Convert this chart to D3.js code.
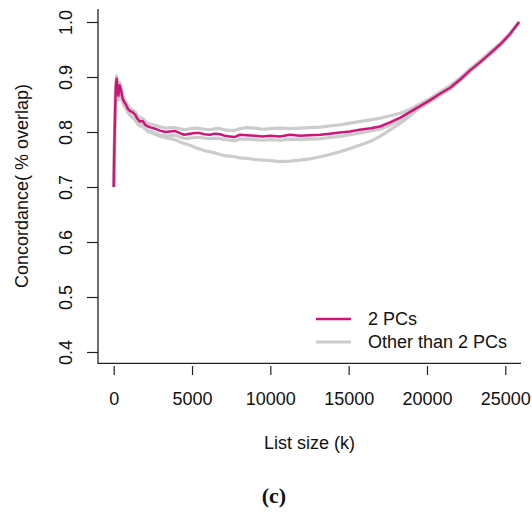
<!DOCTYPE html>
<html>
<head>
<meta charset="utf-8">
<script src="https://cdn.jsdelivr.net/npm/d3@7"></script>
<style>
    body { margin: 0; background: #fff; }
    svg { display: block; font-family: "Liberation Sans", Arial, sans-serif; }
</style>
</head>
<body>
<div id="chart"></div>
<script>
// list size grid (k)
const listSize = [0, 60, 130, 190, 250, 300, 380, 470, 560, 660, 780, 910, 1050, 1200, 1360, 1520,
    1680, 1850, 2020, 2190, 2400, 2640, 2900, 3280, 3600, 3900, 4230, 4500, 4870, 5200, 5500, 5800,
    6150, 6450, 6800, 7100, 7400, 7750, 8050, 8500, 9000, 9500, 10000, 10600, 11250, 11900, 12500,
    13200, 13800, 14450, 15100, 15700, 16400, 17000, 17600, 18300, 18900, 19500, 20200, 20800,
    21500, 22100, 22750, 23400, 24000, 24700, 25300, 25880];

const pcs2 = [.700, .800, .880, .897, .878, .866, .885, .876, .862, .855, .850, .842, .838, .836, .832, .824,
    .819, .820, .813, .810, .808, .806, .803, .800, .801, .802, .798, .795, .797, .798, .798, .796,
    .795, .797, .796, .793, .792, .791, .795, .794, .793, .792, .793, .792, .795, .793, .794,
    .795, .797, .799, .801, .804, .807, .810, .817, .826, .836, .846, .858, .869,
    .881, .895, .912, .927, .942, .960, .978, 1.0];

const otherUpper = [.705, .810, .890, .902, .885, .872, .890, .880, .868, .860, .855, .848, .843, .840, .837, .830,
    .826, .825, .819, .816, .814, .812, .810, .807, .808, .808, .806, .804, .806, .807, .806, .805,
    .804, .806, .806, .804, .803, .803, .806, .808, .807, .805, .806, .807, .806, .807, .808,
    .809, .811, .813, .816, .819, .822, .825, .829, .834, .841, .850, .861, .872,
    .885, .898, .915, .930, .945, .962, .980, 1.0];

const otherNear = [.700, .790, .870, .886, .868, .858, .876, .868, .855, .848, .843, .836, .831, .828, .824, .817,
    .812, .813, .806, .803, .801, .798, .795, .793, .793, .794, .791, .788, .789, .790, .790, .789,
    .788, .789, .788, .786, .785, .784, .787, .787, .786, .785, .786, .785, .787, .786, .787,
    .788, .790, .792, .795, .798, .802, .805, .812, .822, .832, .843, .855, .866,
    .879, .893, .910, .925, .940, .958, .977, 1.0];

const otherLower = [.700, .800, .875, .893, .872, .862, .880, .870, .856, .848, .843, .836, .830, .826, .822, .815,
    .811, .810, .805, .801, .799, .796, .793, .790, .788, .786, .782, .779, .776, .772, .769, .766,
    .764, .762, .759, .757, .756, .755, .753, .752, .750, .749, .748, .746, .747, .749, .751,
    .755, .759, .764, .770, .776, .783, .792, .803, .816, .829, .843, .855, .867,
    .880, .894, .911, .927, .942, .960, .979, 1.0];

const xTicks = [0, 5000, 10000, 15000, 20000, 25000];
const yTicks = [0.4, 0.5, 0.6, 0.7, 0.8, 0.9, 1.0];
const legendLabels = ["2 PCs", "Other than 2 PCs"];

const width = 532, height = 515;
const pink = "#cf1578", grey = "#cccccc", ink = "#222";
const fontSize = 18;

const svg = d3.select("#chart").append("svg")
    .attr("width", width)
    .attr("height", height);

const x = d3.scaleLinear().domain([0, 25000]).range([113.7, 505.3]);
const y = d3.scaleLinear().domain([0.4, 1.0]).range([352, 22]);

// ── frame (bty = "l") ──
svg.append("path")
    .attr("d", `M98,9V363.3H521`)
    .attr("fill", "none")
    .attr("stroke", ink)
    .attr("stroke-width", 1.3);

// ── axes ──
const xAxis = svg.append("g")
    .attr("transform", "translate(0,366)")
    .call(d3.axisBottom(x).tickValues(xTicks).tickFormat(d3.format("d")).tickSize(9).tickSizeOuter(0));
xAxis.select(".domain").remove();
xAxis.selectAll("line").attr("stroke", ink).attr("stroke-width", 1.2);
xAxis.selectAll("text")
    .attr("y", 39).attr("dy", 0)
    .attr("fill", "#111")
    .style("font-size", fontSize + "px")
    .style("font-family", "'Liberation Sans', Arial, sans-serif");

const yAxis = svg.append("g")
    .attr("transform", "translate(98,0)")
    .call(d3.axisLeft(y).tickValues(yTicks).tickFormat(d3.format(".1f")).tickSize(11).tickSizeOuter(0));
yAxis.select(".domain").remove();
yAxis.selectAll("line").attr("stroke", ink).attr("stroke-width", 1.2);
yAxis.selectAll("text")
    .attr("transform", "rotate(-90)")
    .attr("x", 0).attr("y", -26).attr("dy", 0)
    .attr("text-anchor", "middle")
    .attr("fill", "#111")
    .style("font-size", fontSize + "px")
    .style("font-family", "'Liberation Sans', Arial, sans-serif");

// ── titles ──
svg.append("text")
    .attr("x", 309.5).attr("y", 449)
    .attr("text-anchor", "middle")
    .attr("fill", "#111")
    .style("font-size", fontSize + "px")
    .text("List size (k)");

svg.append("text")
    .attr("transform", "translate(28,186) rotate(-90)")
    .attr("text-anchor", "middle")
    .attr("fill", "#111")
    .style("font-size", fontSize + "px")
    .text("Concordance( % overlap)");

svg.append("text")
    .attr("x", 274).attr("y", 503)
    .attr("text-anchor", "middle")
    .attr("fill", "#111")
    .style("font-family", "'Liberation Serif', 'DejaVu Serif', serif")
    .style("font-weight", "bold")
    .style("font-size", "22px")
    .text("(c)");

// ── lines ──
const line = d3.line()
    .x((d, i) => x(listSize[i]))
    .y(d => y(d));

[otherUpper, otherNear, otherLower].forEach(series => {
    svg.append("path")
        .datum(series)
        .attr("d", line)
        .attr("fill", "none")
        .attr("stroke", grey)
        .attr("stroke-width", 3.2)
        .attr("stroke-linejoin", "round");
});

svg.append("path")
    .datum(pcs2)
    .attr("d", line)
    .attr("fill", "none")
    .attr("stroke", pink)
    .attr("stroke-width", 2.5)
    .attr("stroke-linejoin", "round");

// ── legend ──
const legend = svg.append("g");
legendLabels.forEach((label, i) => {
    const ly = 319 + i * 23;
    legend.append("line")
        .attr("x1", 316).attr("x2", 351)
        .attr("y1", ly).attr("y2", ly)
        .attr("stroke", i === 0 ? pink : grey)
        .attr("stroke-width", i === 0 ? 2.3 : 3);
    legend.append("text")
        .attr("x", 368).attr("y", ly)
        .attr("dy", "0.35em")
        .attr("fill", "#111")
        .style("font-size", fontSize + "px")
        .text(label);
});
</script>
</body>
</html>
